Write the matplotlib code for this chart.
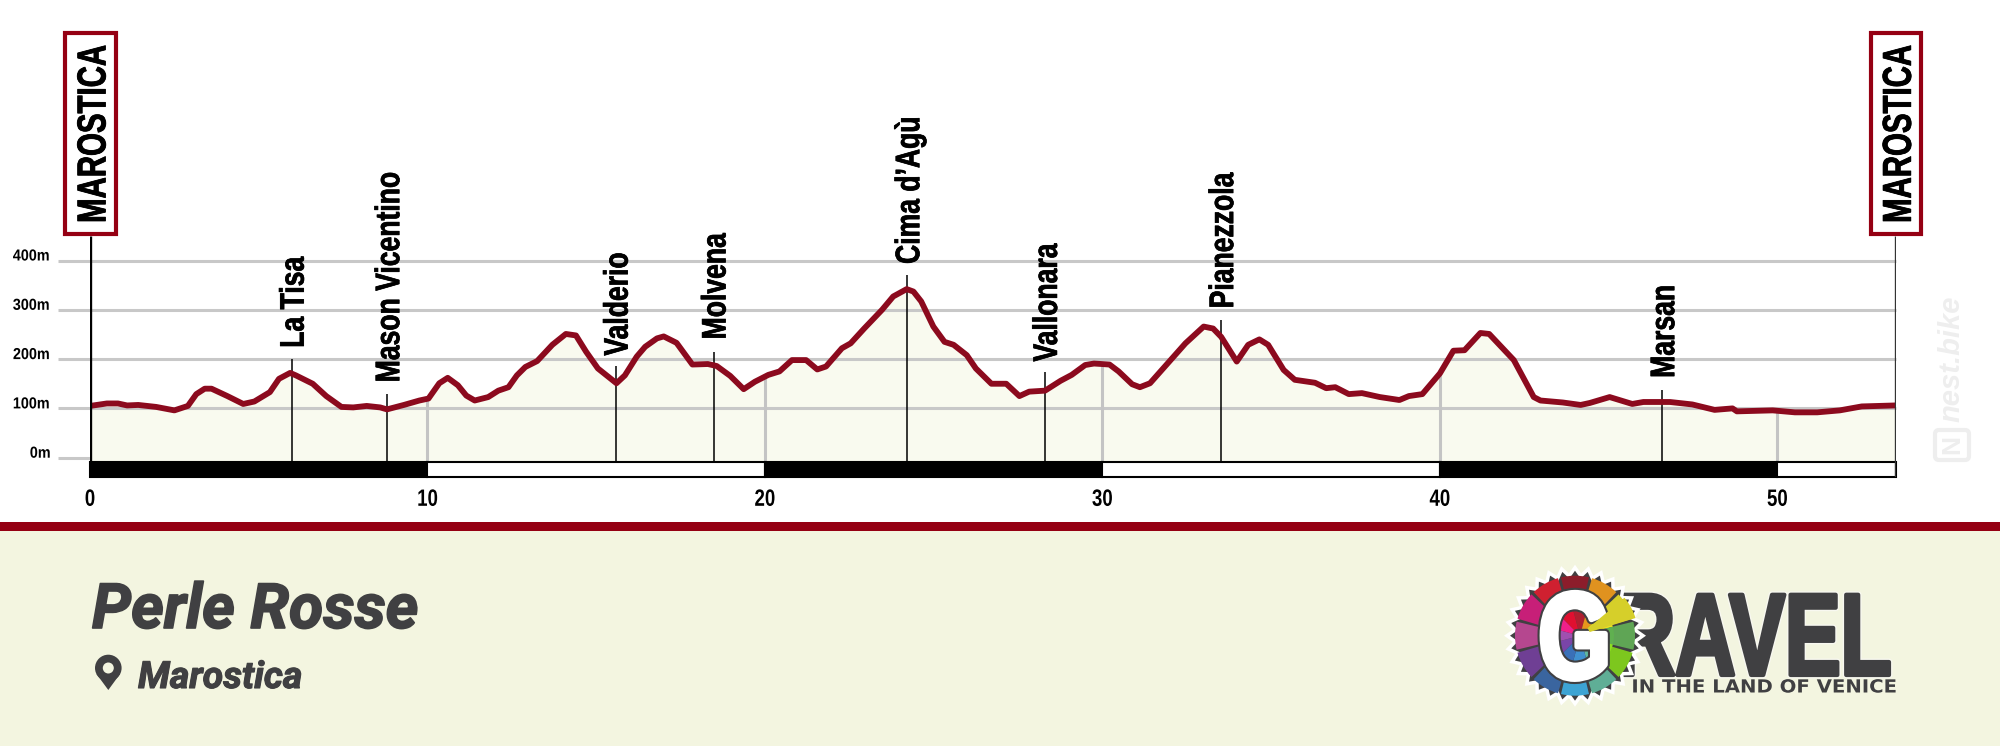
import numpy as np
import matplotlib
matplotlib.use("Agg")
import matplotlib.pyplot as plt
import matplotlib.patheffects as pe
from matplotlib.colors import to_rgba
from matplotlib.patches import Rectangle, Circle, Polygon, Wedge, FancyBboxPatch
from matplotlib.transforms import Affine2D

# elevation profile
km = [0, 0.5, 0.83, 1.1, 1.43, 1.96, 2.5, 2.9, 3.15, 3.4, 3.6, 4.07, 4.54, 4.87, 5.33, 5.6, 5.93, 6.1, 6.6, 7.0,
      7.45, 7.8, 8.2, 8.6, 8.8, 9.3, 9.76, 10.03, 10.35, 10.6, 10.9, 11.15, 11.4, 11.8, 12.1, 12.4, 12.65, 12.9,
      13.25, 13.7, 14.1, 14.4, 14.7, 15.05, 15.6, 15.85, 16.2, 16.45, 16.8, 17.0, 17.38, 17.85, 18.31, 18.57,
      18.97, 19.37, 19.7, 20.1, 20.43, 20.8, 21.22, 21.55, 21.81, 22.28, 22.54, 22.94, 23.47, 23.8, 24.2, 24.4,
      24.63, 24.99, 25.32, 25.59, 25.98, 26.25, 26.71, 27.15, 27.54, 27.83, 28.3, 28.76, 29.09, 29.49, 29.75,
      30.21, 30.48, 30.88, 31.11, 31.41, 31.93, 32.46, 33.0, 33.28, 33.52, 33.98, 34.32, 34.65, 34.91, 35.37,
      35.7, 36.3, 36.63, 36.9, 37.3, 37.69, 38.22, 38.8, 39.08, 39.48, 40.0, 40.4, 40.73, 41.2, 41.46, 41.86,
      42.19, 42.78, 42.98, 43.64, 44.17, 44.44, 45.03, 45.7, 46.03, 46.82, 47.48, 48.14, 48.67, 48.8, 49.86,
      50.52, 51.18, 51.85, 52.5, 53.5]
elev = [105, 110, 110, 106, 107, 103, 96, 105, 129, 140, 140, 125, 109, 114, 133, 160, 172, 167, 150, 125,
        103, 102, 105, 102, 98, 107, 116, 120, 151, 162, 147, 126, 116, 123, 136, 143, 167, 184,
        196, 229, 251, 248, 215, 181, 151, 167, 205, 225, 242, 246, 233, 189, 190, 186,
        166, 139, 154, 168, 175, 198, 198, 179, 185, 222, 232, 262, 300, 327, 342, 337,
        317, 266, 235, 229, 208, 181, 150, 150, 125, 134, 136, 156, 168, 188, 191,
        189, 175, 149, 143, 151, 191, 232, 266, 262, 245, 195, 229, 240, 229, 178,
        158, 152, 141, 143, 129, 131, 123, 117, 125, 129, 171, 217, 218, 253, 251, 222,
        198, 123, 116, 112, 107, 111, 123, 109, 113, 113, 108, 97, 100, 94, 96,
        92, 92, 96, 104, 106]

places = ["La Tisa", "Mason Vicentino", "Valderio", "Molvena", "Cima d\u2019Agù", "Vallonara", "Pianezzola", "Marsan"]
place_km = [5.98, 8.81, 15.58, 18.48, 24.22, 28.3, 33.52, 46.59]
place_top = [200, 129, 186, 215, 371, 173, 279, 138]
label_bottom = [223, 153, 207, 240, 393, 195, 303, 162]

elev_ticks = [0, 100, 200, 300, 400]
km_ticks = [0, 10, 20, 30, 40, 50]
seg_start = [0, 10, 20, 30, 40, 50]
seg_end = [10, 20, 30, 40, 50, 53.5]

W, H = 2000, 746
RED = "#950013"
DARK = "#404042"
SANS = "Liberation Sans"


class Squeeze(pe.AbstractPathEffect):
    # no narrow font installed, so real text gets squeezed along its own direction
    def __init__(self, sx, center=False, stroke=None, lw=0):
        super().__init__()
        self.sx, self.center, self.stroke, self.lw = sx, center, stroke, lw

    def draw_path(self, renderer, gc, tpath, affine, rgbFace=None):
        box = tpath.get_extents()
        mid = (box.x0 + box.x1) / 2 if self.center else 0
        aff = Affine2D().translate(-mid, 0).scale(self.sx, 1).translate(mid, 0) + affine
        if self.stroke:
            gc0 = renderer.new_gc()
            gc0.copy_properties(gc)
            gc0.set_foreground(self.stroke)
            gc0.set_linewidth(self.lw)
            renderer.draw_path(gc0, tpath, aff, to_rgba(self.stroke))
            gc0.restore()
        renderer.draw_path(gc, tpath, aff, rgbFace)


fig = plt.figure(figsize=(W / 100, H / 100), dpi=100, facecolor="white")

# overlay in pixel coordinates for panel, boxes and logo
bg = fig.add_axes([0, 0, 1, 1], zorder=0)
bg.set_xlim(0, W)
bg.set_ylim(H, 0)
bg.axis("off")

# chart axes: 0..53.5 km is 90..1895.5 px, 0 m at 457.7 px and 0.493 px per metre
x0, x1 = 90, 1895.5
y_bottom, y_top = 476.7, 20
ax = fig.add_axes([x0 / W, 1 - y_bottom / H, (x1 - x0) / W, (y_bottom - y_top) / H], zorder=2)
ax.patch.set_alpha(0)
ax.set_xlim(0, 53.5)
ax.set_ylim((457.7 - y_bottom) / 0.493, (457.7 - y_top) / 0.493)
for s in ax.spines.values():
    s.set_visible(False)

base = -9.7
low = ax.get_ylim()[0]

ax.fill_between(km, base, elev, color="#f9faef", lw=0, zorder=1)
ax.hlines(elev_ticks[1:], -0.95, 53.5, color="#c8c8c8", lw=2.2, zorder=2, clip_on=False)
ax.hlines(0, -0.95, 0, color="#c8c8c8", lw=2.2, zorder=2, clip_on=False)
ax.vlines(km_ticks[1:], base, np.interp(km_ticks[1:], km, elev), color="#c4c4c4", lw=2.2, zorder=2)
ax.plot(km, elev, color="#8c0a1e", lw=4.2, solid_joinstyle="round", zorder=5)

# places
ax.vlines(place_km, base, place_top, color="black", lw=1.1, zorder=4)
for name, k, b in zip(places, place_km, label_bottom):
    ax.text(k + 0.1, b, name, rotation=90, ha="center", va="bottom", family=SANS, weight="bold",
            fontsize=24.5, color="black", zorder=6, path_effects=[Squeeze(0.78, stroke="black", lw=0.5)])

# km scale bar
for i, (a, b) in enumerate(zip(seg_start, seg_end)):
    ax.bar(a, base - low, width=b - a, bottom=low, align="edge", color="black" if i % 2 == 0 else "white",
           edgecolor="black", lw=1.5, zorder=6, clip_on=False)

# start and finish posts
post_top = 450
ax.vlines(0, low, post_top, color="black", lw=2.4, zorder=6)
ax.vlines(53.5, low, post_top, color="#333333", lw=2.4, zorder=6)

ax.set_xticks(km_ticks)
ax.set_xticklabels([str(v) for v in km_ticks], family=SANS, weight="bold", fontsize=17)
ax.set_yticks(elev_ticks)
ax.set_yticklabels([f"{v}m" for v in elev_ticks], family=SANS, weight="bold", fontsize=11.5)
ax.tick_params(axis="x", length=0, pad=8)
ax.tick_params(axis="y", length=0, pad=27.5)
for lab in ax.get_xticklabels():
    lab.set_path_effects([Squeeze(0.79, center=True)])
for lab in ax.get_yticklabels():
    lab.set_verticalalignment("baseline")
    lab.set_path_effects([Squeeze(0.9, center=True)])

for left in [63.4, 1868.8]:
    bg.add_patch(Rectangle((left + 2, 33), 50.5, 200.5, fc="white", ec=RED, lw=3))
    bg.text(left + 31, 134, "MAROSTICA", rotation=90, ha="center", va="center", family=SANS,
            weight="bold", fontsize=29, color="black", zorder=5,
            path_effects=[Squeeze(0.73, center=True, stroke="black", lw=0.6)])

# bottom panel
bg.add_patch(Rectangle((0, 531), W, H - 531, fc="#f3f5e0", ec="none", zorder=0))
bg.add_patch(Rectangle((0, 522), W, 9, fc=RED, ec="none", zorder=1))
bg.text(92, 628, "Perle Rosse", family="Roboto", weight="bold", style="italic", fontsize=45,
        color=DARK, va="baseline", zorder=2, path_effects=[pe.withStroke(linewidth=1.2, foreground=DARK)])
bg.text(138, 688, "Marostica", family="Roboto", weight="bold", style="italic", fontsize=27,
        color=DARK, va="baseline", zorder=2, path_effects=[pe.withStroke(linewidth=0.8, foreground=DARK)])
bg.add_patch(Circle((108.3, 668), 13.3, fc=DARK, ec="none", zorder=2))
bg.add_patch(Polygon([(96.5, 674), (120, 674), (108.3, 690)], fc=DARK, ec="none", zorder=2))
bg.add_patch(Circle((108.3, 668), 5.5, fc="#f3f5e0", ec="none", zorder=3))

# watermark
bg.text(1952, 359, "nest.bike", rotation=90, ha="center", va="center", family=SANS,
        weight="bold", style="italic", fontsize=21, color="#eeeeee", zorder=1)
bg.add_patch(FancyBboxPatch((1937, 432), 30, 26, boxstyle="round,pad=2,rounding_size=4", fc="none",
                            ec="#eeeeee", lw=3, zorder=1))
bg.text(1952, 445, "N", rotation=90, ha="center", va="center", family=SANS, weight="bold",
        fontsize=19, color="#eeeeee", zorder=1)

# logo wordmark
bg.text(1615, 675, "RAVEL", ha="left", va="baseline", family=SANS, weight="bold", fontsize=84, color=DARK,
        zorder=3, path_effects=[Squeeze(0.715, stroke="#f8f8f0", lw=5), Squeeze(0.715, stroke=DARK, lw=3)])
bg.text(1763.5, 692.5, "IN THE LAND OF VENICE", ha="center", va="baseline", family="DejaVu Sans", weight="bold",
        fontsize=13, color=DARK, zorder=3, path_effects=[Squeeze(1.09, center=True)])

# logo gear
cx, cy = 1575, 635.7
teeth = 32
ang = np.linspace(0, 2 * np.pi, teeth * 2, endpoint=False)
rad = np.where(np.arange(teeth * 2) % 2 == 0, 68, 60)
gear = np.column_stack([cx + rad * np.cos(ang), cy + rad * np.sin(ang)])
bg.add_patch(Polygon(gear, fc=DARK, ec="white", lw=2.5, zorder=4))

wedge_colors = ["#8c1d2b", "#e0921f", "#d6cf2a", "#5fa555", "#7dc71e", "#5fae96", "#3da4d4", "#3a659f",
                "#6f3f94", "#b5478f", "#c71f78", "#cf2030"]
bright = ["#b01f2f", "#e8961c", "#f0e020", "#60b050", "#90e020", "#60b8a0", "#4090d0", "#3a70b8",
          "#7a45a8", "#a050b0", "#f0208a", "#e01030"]
n = len(wedge_colors)
step = 360 / n
for i in range(n):
    # y axis is flipped: angles run clockwise on screen, start at the top
    start = -90 + (i - 0.5) * step
    bg.add_patch(Wedge((cx, cy), 60, start + 1.5, start + step - 1.5, width=30, fc=wedge_colors[i], ec="none", zorder=5))
    bg.add_patch(Wedge((cx + 5, cy), 34, start, start + step, fc=bright[i], ec="none", zorder=5))

bg.text(cx, 678, "G", ha="center", va="baseline", family=SANS, weight="bold", fontsize=88, color="white", zorder=6,
        path_effects=[Squeeze(0.76, center=True, stroke=DARK, lw=7), Squeeze(0.76, center=True, stroke="white", lw=4)])
bg.add_patch(Wedge((1580, 635), 58, -40, -17, width=48, fc="#d6cf2a", ec="none", zorder=7))

fig.savefig("out.png", dpi=100)
